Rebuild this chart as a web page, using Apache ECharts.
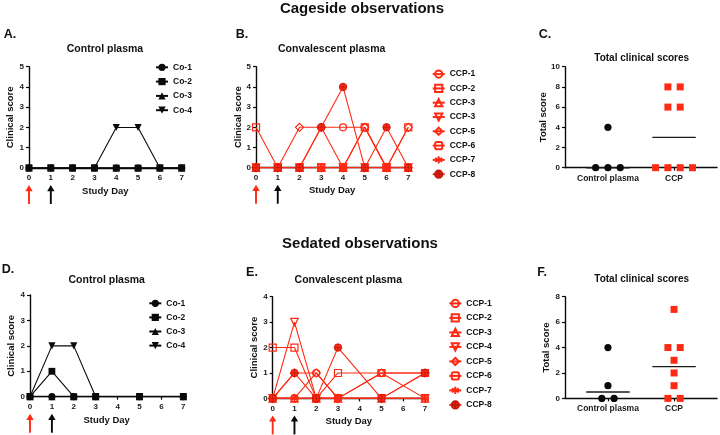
<!DOCTYPE html>
<html>
<head>
<meta charset="utf-8">
<script src="https://cdn.jsdelivr.net/npm/echarts@6/dist/echarts.min.js"></script>
<style>html,body{margin:0;padding:0;background:#fff}#c{width:720px;height:435px}</style>
</head>
<body>
<div id="c"></div>
<script>
// ---------------- DATA ----------------
const studyDaysCage = [0, 1, 2, 3, 4, 5, 6, 7];
const studyDaysSed = [0, 1, 2, 3, 5, 7];
const dayTicks = [0, 1, 2, 3, 4, 5, 6, 7];
const controlNames = ['Co-1', 'Co-2', 'Co-3', 'Co-4'];
const ccpNamesCage = ['CCP-1', 'CCP-2', 'CCP-3', 'CCP-3', 'CCP-5', 'CCP-6', 'CCP-7', 'CCP-8'];
const ccpNamesSed = ['CCP-1', 'CCP-2', 'CCP-3', 'CCP-4', 'CCP-5', 'CCP-6', 'CCP-7', 'CCP-8'];

const cageControl = [
  [0, 0, 0, 0, 0, 0, 0, 0],
  [0, 0, 0, 0, 0, 0, 0, 0],
  [0, 0, 0, 0, 0, 0, 0, 0],
  [0, 0, 0, 0, 2, 2, 0, 0]
];
const cageCCP = [
  [0, 0, 0, 2, 2, 2, 0, 0],
  [2, 0, 0, 0, 0, 2, 0, 2],
  [0, 0, 0, 0, 0, 0, 0, 0],
  [0, 0, 0, 0, 0, 0, 0, 0],
  [0, 0, 2, 2, 0, 2, 0, 2],
  [0, 0, 0, 0, 0, 0, 0, 0],
  [0, 0, 0, 0, 0, 0, 0, 0],
  [0, 0, 0, 2, 4, 0, 2, 0]
];
const sedControl = [
  [0, 0, 0, 0, 0, 0],
  [0, 1, 0, 0, 0, 0],
  [0, 0, 0, 0, 0, 0],
  [0, 2, 2, 0, 0, 0]
];
const sedCCP = [
  [0, 0, 1, 0, 1, 0],
  [2, 2, 0, 1, 1, 1],
  [0, 0, 0, 0, 0, 0],
  [0, 3, 0, 0, 0, 0],
  [0, 1, 1, 0, 1, 1],
  [0, 0, 0, 0, 0, 1],
  [0, 0, 0, 0, 0, 0],
  [0, 1, 0, 2, 0, 1]
];
const totalGroups = ['Control plasma', 'CCP'];
const cageTotalsControl = [0, 0, 4, 0];
const cageTotalsCCP = [0, 0, 0, 0, 6, 6, 8, 8];
const sedTotalsControl = [0, 0, 1, 4];
const sedTotalsCCP = [0, 0, 1, 2, 3, 4, 4, 7];
const arrowDays = [0, 1];

// ---------------- STYLE ----------------
const RED = '#ff2a14';
const BLACK = '#0a0a0a';
const FONT = '"Liberation Sans", Arial, Helvetica, sans-serif';
const ASTER = 'path://M0,-10L0,10M-8.66,-5L8.66,5M-8.66,5L8.66,-5';
const CIRCX = 'path://M-10,0A10,10 0 1,1 10,0A10,10 0 1,1 -10,0ZM-10,0L10,0M0,-10L0,10';
const ctrlSymbols = ['circle', 'rect', 'triangle', 'triangle'];
const ctrlRotate = [0, 0, 0, 180];
const ctrlOrder = [2, 3, 0, 1];
const ccpSymbols = ['circle', 'rect', 'triangle', 'triangle', 'diamond', 'roundRect', ASTER, CIRCX];
const ccpRotate = [0, 0, 0, 180, 0, 0, 0, 0];
const ccpSizes = [7, 7, 7.5, 7.5, 8, 6.5, 7.5, 7.5];

const grids = [
  {left: 29, top: 66.7, width: 152.7, height: 101.3},
  {left: 256, top: 66.7, width: 152.3, height: 101},
  {left: 565, top: 66.7, width: 152, height: 101},
  {left: 30, top: 295, width: 153.3, height: 101.7},
  {left: 272.7, top: 296.7, width: 152.3, height: 101.7},
  {left: 565, top: 296.7, width: 152, height: 101.7}
].map(g => Object.assign({outerBoundsMode: 'none', containLabel: false}, g));

const lblStyle = {fontFamily: FONT, fontWeight: 'bold', fontSize: 8, color: '#1a1a1a'};
const nameStyle = {fontFamily: FONT, fontWeight: 'bold', fontSize: 9.5, color: '#111'};
const axLine = {show: true, lineStyle: {color: BLACK, width: 1.4}};
const axTick = {show: true, length: 3, lineStyle: {color: BLACK, width: 1.2}};

function dayXAxis(gi, gap) {
  return {type: 'value', gridIndex: gi, min: dayTicks[0], max: dayTicks[dayTicks.length - 1], interval: 1,
    axisLine: axLine, axisTick: axTick, splitLine: {show: false},
    axisLabel: Object.assign({margin: 6}, lblStyle),
    name: 'Study Day', nameLocation: 'middle', nameGap: gap, nameTextStyle: nameStyle, nameMoveOverlap: false};
}
function scoreYAxis(gi, max, interval, name, gap) {
  return {type: 'value', gridIndex: gi, min: 0, max: max, interval: interval,
    axisLine: axLine, axisTick: axTick, splitLine: {show: false},
    axisLabel: Object.assign({margin: 5}, lblStyle),
    name: name, nameLocation: 'middle', nameRotate: 90, nameGap: gap, nameTextStyle: nameStyle, nameMoveOverlap: false};
}
function groupXAxis(gi) {
  return {type: 'value', gridIndex: gi, min: 0.35, max: 2.65,
    axisLine: axLine, splitLine: {show: false},
    axisTick: Object.assign({customValues: [1, 2]}, axTick),
    axisLabel: Object.assign({margin: 6, customValues: [1, 2], formatter: v => totalGroups[Math.round(v) - 1] || ''}, lblStyle, {fontSize: 8.5})};
}

const xAxes = [dayXAxis(0, 18.5), dayXAxis(1, 17.5), groupXAxis(2), dayXAxis(3, 18.3), dayXAxis(4, 18.4), groupXAxis(5)];
const yAxes = [
  scoreYAxis(0, 5, 1, 'Clinical score', 14),
  scoreYAxis(1, 5, 1, 'Clinical score', 12.7),
  scoreYAxis(2, 10, 2, 'Total score', 17),
  scoreYAxis(3, 4, 1, 'Clinical score', 13.3),
  scoreYAxis(4, 4, 1, 'Clinical score', 13.7),
  scoreYAxis(5, 8, 2, 'Total score', 13.3)
];

const series = [];
const legends = [];
function controlPanel(ai, tag, days, rows, legendPos) {
  const names = [];
  ctrlOrder.forEach(i => {
    const nm = tag + i + '|' + controlNames[i];
    series.push({type: 'line', name: nm, xAxisIndex: ai, yAxisIndex: ai,
      data: days.map((d, k) => [d, rows[i][k]]),
      symbol: ctrlSymbols[i], symbolRotate: ctrlRotate[i], symbolSize: i === 1 ? 6.8 : 7.2,
      itemStyle: {color: BLACK, opacity: 1}, lineStyle: {color: BLACK, width: 1.1}, emphasis: {disabled: true}});
  });
  controlNames.forEach((n, i) => names.push(tag + i + '|' + n));
  legends.push(Object.assign({data: names}, legendPos));
}
function ccpPanel(ai, tag, days, rows, labels, legendPos) {
  const names = [];
  labels.forEach((lab, i) => {
    const nm = tag + i + '|' + lab;
    names.push(nm);
    let itemStyle;
    if (i === 7) itemStyle = {color: RED, borderColor: '#c0180a', borderWidth: 0.8, opacity: 1};
    else if (i === 6) itemStyle = {color: RED, borderColor: RED, borderWidth: 1.5, opacity: 1};
    else itemStyle = {color: 'transparent', borderColor: RED, borderWidth: 1.2, opacity: 1};
    series.push({type: 'line', name: nm, xAxisIndex: ai, yAxisIndex: ai,
      data: days.map((d, k) => [d, rows[i][k]]),
      symbol: ccpSymbols[i], symbolRotate: ccpRotate[i], symbolSize: ccpSizes[i], symbolKeepAspect: true,
      itemStyle: itemStyle, lineStyle: {color: RED, width: 1.1}, emphasis: {disabled: true}});
  });
  legends.push(Object.assign({data: names}, legendPos));
}
const legendBase = {orient: 'vertical', padding: 0, itemWidth: 12, itemHeight: 9, selectedMode: false,
  formatter: n => n.split('|')[1],
  textStyle: {fontFamily: FONT, fontWeight: 'bold', fontSize: 8.5, color: '#111', lineHeight: 9}};

controlPanel(0, 'A', studyDaysCage, cageControl, Object.assign({}, legendBase, {left: 155, top: 62.8, itemGap: 5.3}));
ccpPanel(1, 'B', studyDaysCage, cageCCP, ccpNamesCage, Object.assign({}, legendBase, {left: 431.7, top: 69.5, itemGap: 5.1}));
controlPanel(3, 'D', studyDaysSed, sedControl, Object.assign({}, legendBase, {left: 148.3, top: 298.8, itemGap: 5.1}));
ccpPanel(4, 'E', studyDaysSed, sedCCP, ccpNamesSed, Object.assign({}, legendBase, {left: 448.3, top: 298.8, itemGap: 5.3}));

function median(a) {
  const s = a.slice().sort((x, y) => x - y);
  const m = s.length / 2;
  return s.length % 2 ? s[Math.floor(m)] : (s[m - 1] + s[m]) / 2;
}
function swarm(values, gx, spacing) {
  const counts = {}, seen = {};
  values.forEach(v => { counts[v] = (counts[v] || 0) + 1; });
  return values.map(v => {
    seen[v] = seen[v] === undefined ? 0 : seen[v] + 1;
    return {value: [gx, v], symbolOffset: [(seen[v] - (counts[v] - 1) / 2) * spacing, 0]};
  });
}
function totalsPanel(ai, ctrl, ccp) {
  series.push({type: 'custom', xAxisIndex: ai, yAxisIndex: ai, silent: true, z: 1,
    data: [[1, median(ctrl)], [2, median(ccp)]],
    renderItem: (p, api) => {
      const c = api.coord([api.value(0), api.value(1)]);
      return {type: 'line', shape: {x1: c[0] - 21.7, y1: c[1], x2: c[0] + 21.7, y2: c[1]},
        style: {stroke: '#1a1a1a', lineWidth: 1.4}};
    }});
  series.push({type: 'scatter', xAxisIndex: ai, yAxisIndex: ai, z: 3, data: swarm(ctrl, 1, 12.3),
    symbol: 'circle', symbolSize: 7.2, itemStyle: {color: BLACK, opacity: 1}, emphasis: {disabled: true}});
  series.push({type: 'scatter', xAxisIndex: ai, yAxisIndex: ai, z: 3, data: swarm(ccp, 2, 12.3),
    symbol: 'rect', symbolSize: 7, itemStyle: {color: RED, opacity: 1}, emphasis: {disabled: true}});
}
totalsPanel(2, cageTotalsControl, cageTotalsCCP);
totalsPanel(5, sedTotalsControl, sedTotalsCCP);

const chart = echarts.init(document.getElementById('c'));
chart.setOption({
  animation: false,
  backgroundColor: '#fff',
  textStyle: {fontFamily: FONT},
  tooltip: {show: false},
  grid: grids, xAxis: xAxes, yAxis: yAxes, legend: legends, series: series
});

// ---------------- TEXT + ARROWS ----------------
function txt(x, y, text, size) {
  return {type: 'text', x: x, y: y, silent: true,
    style: {text: text, align: 'center', verticalAlign: 'middle', fill: '#111',
      font: 'bold ' + size + 'px ' + FONT}};
}
const graphics = [
  txt(362, 8.5, 'Cageside observations', 15),
  txt(360, 244, 'Sedated observations', 15),
  txt(10, 35, 'A.', 12.5), txt(242, 35, 'B.', 12.5), txt(545, 35, 'C.', 12.5),
  txt(8, 270, 'D.', 12.5), txt(252, 273, 'E.', 12.5), txt(542, 273, 'F.', 12.5),
  txt(105, 49.5, 'Control plasma', 10.5),
  txt(331.7, 49.5, 'Convalescent plasma', 10.5),
  txt(641.7, 58.3, 'Total clinical scores', 10),
  txt(106.7, 280, 'Control plasma', 10.5),
  txt(348.3, 280, 'Convalescent plasma', 10.5),
  txt(641.7, 279.3, 'Total clinical scores', 10)
];
[0, 1, 3, 4].forEach(ai => {
  const y0 = chart.convertToPixel({yAxisIndex: ai}, 0);
  arrowDays.forEach((d, k) => {
    const x = chart.convertToPixel({xAxisIndex: ai}, d);
    const col = k === 0 ? RED : BLACK;
    const tip = y0 + 17;
    graphics.push({type: 'line', silent: true, shape: {x1: x, y1: tip + 5, x2: x, y2: tip + 19},
      style: {stroke: col, lineWidth: 1.9}});
    graphics.push({type: 'polygon', silent: true, shape: {points: [[x, tip], [x - 3.7, tip + 6.2], [x + 3.7, tip + 6.2]]},
      style: {fill: col}});
  });
});
chart.setOption({graphic: graphics});
</script>
</body>
</html>
